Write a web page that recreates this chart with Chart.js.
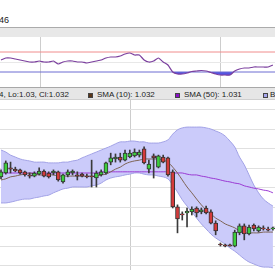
<!DOCTYPE html>
<html>
<head>
<meta charset="utf-8">
<script src="https://cdn.jsdelivr.net/npm/chart.js@4.4.0/dist/chart.umd.min.js"></script>
<style>
body { margin:0; width:275px; height:270px; overflow:hidden; background:#fff; position:relative;
       font-family: Arial, "Liberation Sans", sans-serif; font-size:8px; color:#222; }
.abs { position:absolute; }
#topval { left:-1px; top:16px; line-height:9px; font-size:9px; }
#bar1 { left:0; top:27px; width:275px; height:9px; background:#e8e8e8; border-top:1px solid #ababab; }
#rsiBox { left:0; top:37px; width:275px; height:50px; }
#bar2 { left:0; top:87px; width:275px; height:11px; background:#e6e6e6; border-top:1px solid #a8a8a8; border-bottom:1px solid #cfcfcf; }
#mainBox { left:0; top:100px; width:275px; height:170px; }
.sw { position:absolute; top:5px; width:3px; height:3px; border:1px solid #444; }
.lt { position:absolute; top:3px; line-height:8px; white-space:nowrap; }
</style>
</head>
<body>
<div id="topval" class="abs">46</div>
<div id="bar1" class="abs"></div>
<div id="rsiBox" class="abs"><canvas id="rsi" width="275" height="50"></canvas></div>
<div id="bar2" class="abs">
  <span class="lt" style="left:-1px">4, Lo:1.03, Cl:1.032</span>
  <span class="sw" style="left:88px;background:#5a3518"></span>
  <span class="lt" style="left:97px">SMA (10): 1.032</span>
  <span class="sw" style="left:175px;background:#8a10c8"></span>
  <span class="lt" style="left:184px">SMA (50): 1.031</span>
  <span class="sw" style="left:263px;background:#a8a8ec"></span>
  <span class="lt" style="left:270px">B</span>
</div>
<div id="mainBox" class="abs"><canvas id="main" width="275" height="170"></canvas></div>
<script>
// candles
var opens = [1.03328, 1.03338, 1.03351, 1.03348, 1.03346, 1.03341, 1.03333, 1.03330, 1.03335, 1.03343,
             1.03338, 1.03338, 1.03341, 1.03315, 1.03333, 1.03338, 1.03333, 1.03335, 1.03330, 1.03330,
             1.03325, 1.03333, 1.03338, 1.03366, 1.03374, 1.03379, 1.03371, 1.03379, 1.03382, 1.03384,
             1.03400, 1.03348, 1.03382, 1.03353, 1.03379, 1.03377, 1.03341, 1.03251, 1.03233, 1.03235,
             1.03238, 1.03248, 1.03238, 1.03248, 1.03238, 1.03209, 1.03155, 1.03153, 1.03153, 1.03150,
             1.03184, 1.03202, 1.03181, 1.03204, 1.03189, 1.03197, 1.03194, 1.03194];
var highs = [1.03346, 1.03369, 1.03366, 1.03353, 1.03348, 1.03343, 1.03338, 1.03341, 1.03351, 1.03346,
             1.03341, 1.03346, 1.03343, 1.03335, 1.03346, 1.03346, 1.03341, 1.03338, 1.03335, 1.03371,
             1.03343, 1.03346, 1.03366, 1.03389, 1.03387, 1.03389, 1.03397, 1.03397, 1.03400, 1.03397,
             1.03405, 1.03371, 1.03387, 1.03384, 1.03384, 1.03379, 1.03346, 1.03256, 1.03238, 1.03248,
             1.03251, 1.03251, 1.03248, 1.03253, 1.03243, 1.03215, 1.03158, 1.03155, 1.03155, 1.03191,
             1.03207, 1.03207, 1.03204, 1.03207, 1.03202, 1.03202, 1.03199, 1.03199];
var lows = [1.03323, 1.03335, 1.03338, 1.03341, 1.03335, 1.03330, 1.03325, 1.03328, 1.03333, 1.03328,
            1.03325, 1.03333, 1.03317, 1.03312, 1.03328, 1.03333, 1.03320, 1.03328, 1.03325, 1.03302,
            1.03302, 1.03330, 1.03335, 1.03359, 1.03366, 1.03366, 1.03369, 1.03377, 1.03379, 1.03379,
            1.03361, 1.03338, 1.03325, 1.03351, 1.03364, 1.03330, 1.03248, 1.03184, 1.03217, 1.03199,
            1.03230, 1.03225, 1.03233, 1.03233, 1.03207, 1.03179, 1.03150, 1.03148, 1.03150, 1.03148,
            1.03179, 1.03166, 1.03179, 1.03189, 1.03186, 1.03191, 1.03189, 1.03191];
var closes = [1.03341, 1.03364, 1.03348, 1.03343, 1.03338, 1.03333, 1.03330, 1.03338, 1.03343, 1.03330,
              1.03328, 1.03343, 1.03320, 1.03333, 1.03341, 1.03343, 1.03330, 1.03330, 1.03328, 1.03328,
              1.03338, 1.03341, 1.03364, 1.03377, 1.03379, 1.03371, 1.03389, 1.03389, 1.03392, 1.03392,
              1.03364, 1.03361, 1.03377, 1.03382, 1.03366, 1.03333, 1.03251, 1.03220, 1.03230, 1.03240,
              1.03245, 1.03235, 1.03243, 1.03235, 1.03209, 1.03189, 1.03153, 1.03150, 1.03150, 1.03186,
              1.03202, 1.03181, 1.03199, 1.03194, 1.03199, 1.03194, 1.03191, 1.03197];

// indicators
var sma10 = [1.03320, 1.03323, 1.03328, 1.03330, 1.03333, 1.03335, 1.03338, 1.03335, 1.03333, 1.03333,
             1.03333, 1.03333, 1.03330, 1.03330, 1.03330, 1.03330, 1.03330, 1.03330, 1.03330, 1.03330,
             1.03330, 1.03333, 1.03335, 1.03341, 1.03348, 1.03353, 1.03361, 1.03366, 1.03369, 1.03371,
             1.03374, 1.03374, 1.03374, 1.03374, 1.03371, 1.03366, 1.03353, 1.03338, 1.03320, 1.03302,
             1.03287, 1.03271, 1.03256, 1.03243, 1.03233, 1.03222, 1.03215, 1.03207, 1.03202, 1.03197,
             1.03189, 1.03184, 1.03184, 1.03184, 1.03184, 1.03186, 1.03186, 1.03186];
var sma50 = [1.03338, 1.03338, 1.03338, 1.03338, 1.03338, 1.03338, 1.03338, 1.03338, 1.03338, 1.03338,
             1.03338, 1.03338, 1.03338, 1.03338, 1.03338, 1.03338, 1.03338, 1.03338, 1.03338, 1.03338,
             1.03338, 1.03341, 1.03341, 1.03341, 1.03341, 1.03341, 1.03341, 1.03341, 1.03341, 1.03341,
             1.03341, 1.03341, 1.03341, 1.03341, 1.03341, 1.03341, 1.03338, 1.03338, 1.03338, 1.03335,
             1.03333, 1.03333, 1.03330, 1.03328, 1.03325, 1.03323, 1.03320, 1.03317, 1.03315, 1.03312,
             1.03310, 1.03305, 1.03302, 1.03299, 1.03297, 1.03294, 1.03292, 1.03287];
var bbUpper = [1.03397, 1.03392, 1.03384, 1.03379, 1.03374, 1.03371, 1.03369, 1.03366, 1.03366, 1.03366,
               1.03364, 1.03364, 1.03364, 1.03366, 1.03366, 1.03369, 1.03371, 1.03377, 1.03382, 1.03387,
               1.03392, 1.03397, 1.03402, 1.03407, 1.03413, 1.03418, 1.03418, 1.03420, 1.03420, 1.03418,
               1.03418, 1.03415, 1.03415, 1.03415, 1.03418, 1.03423, 1.03438, 1.03449, 1.03454, 1.03456,
               1.03456, 1.03456, 1.03456, 1.03454, 1.03451, 1.03446, 1.03441, 1.03433, 1.03420, 1.03405,
               1.03379, 1.03359, 1.03333, 1.03307, 1.03287, 1.03271, 1.03261, 1.03253];
var bbLower = [1.03261, 1.03261, 1.03263, 1.03266, 1.03269, 1.03271, 1.03271, 1.03274, 1.03276, 1.03279,
               1.03281, 1.03287, 1.03292, 1.03297, 1.03299, 1.03302, 1.03302, 1.03302, 1.03302, 1.03305,
               1.03307, 1.03312, 1.03320, 1.03325, 1.03328, 1.03330, 1.03333, 1.03335, 1.03338, 1.03338,
               1.03335, 1.03333, 1.03333, 1.03330, 1.03328, 1.03323, 1.03307, 1.03289, 1.03269, 1.03253,
               1.03238, 1.03222, 1.03207, 1.03194, 1.03181, 1.03171, 1.03163, 1.03155, 1.03145, 1.03137,
               1.03127, 1.03117, 1.03109, 1.03104, 1.03099, 1.03096, 1.03096, 1.03094];
var rsi14 = [54, 58, 58, 56, 54, 52, 50, 50, 52, 50,
             50, 52, 46, 50, 52, 52, 50, 50, 48, 50,
             52, 54, 58, 60, 60, 62, 66, 68, 64, 64,
             54, 50, 52, 58, 50, 44, 30, 26, 26, 28,
             31, 32, 33, 32, 29, 26, 24, 24, 24, 32,
             36, 38, 38, 40, 40, 40, 40, 44];
var rsiLevels = [70, 30];
var dayBreaks = [8.2, 46.1];

function xy(arr) {
    return arr.map(function(v, i) { return {x: i, y: v}; });
}
function flatLine(v) {
    return [{x: -2, y: v}, {x: 60, y: v}];
}

var xScale = {
    type: 'linear', min: -0.21, max: 57.44, offset: false,
    afterBuildTicks: function(s) { s.ticks = dayBreaks.map(function(v) { return {value: v}; }); },
    ticks: {display: false},
    grid: {color: '#cdcdcd', drawTicks: false},
    border: {display: false}
};
var common = {
    responsive: false, animation: false, devicePixelRatio: 1,
    layout: {padding: 0},
    plugins: {legend: {display: false}, tooltip: {enabled: false}, filler: {drawTime: 'beforeDatasetsDraw'}}
};

var idx = opens.map(function(_, i) { return i; });

new Chart(document.getElementById('main'), {
    type: 'bar',
    data: {
        datasets: [
            {type: 'line', data: xy(bbUpper), borderColor: '#a2a2e6', borderWidth: 1, pointRadius: 0,
             tension: 0.3, fill: false, order: 5},
            {type: 'line', data: xy(bbLower), borderColor: '#a2a2e6', borderWidth: 1, pointRadius: 0,
             tension: 0.3, fill: '-1', backgroundColor: '#cbcbfa', order: 4},
            {type: 'line', data: xy(sma50), borderColor: '#9b3bd4', borderWidth: 1, pointRadius: 0,
             tension: 0.3, fill: false, order: 3},
            {type: 'line', data: xy(sma10), borderColor: '#7e6455', borderWidth: 1, pointRadius: 0,
             tension: 0.3, fill: false, order: 2},
            {data: idx.map(function(i) { return {x: i, y: [lows[i], highs[i]]}; }),
             backgroundColor: '#3a3a3a', barThickness: 1, grouped: false, order: 1},
            {data: idx.map(function(i) { return {x: i, y: [opens[i], closes[i]]}; }),
             backgroundColor: idx.map(function(i) { return closes[i] > opens[i] ? '#3dce3d' : '#d43b3b'; }),
             borderColor: '#333', borderWidth: 1, borderSkipped: false,
             barThickness: 4, grouped: false, order: 0}
        ]
    },
    options: Object.assign({}, common, {
        scales: {
            x: xScale,
            y: {min: 1.030885, max: 1.035257,
                ticks: {display: false, stepSize: 0.0005, includeBounds: false},
                grid: {color: '#e0e0e0', drawTicks: false}, border: {display: false}}
        }
    })
});

new Chart(document.getElementById('rsi'), {
    type: 'line',
    data: {
        datasets: [
            {data: xy(rsi14), borderColor: '#7b3f9e', borderWidth: 1.2, pointRadius: 0, tension: 0.2,
             fill: {target: {value: rsiLevels[1]}, above: 'rgba(0,0,0,0)', below: '#5454e2'}, order: 0},
            {data: flatLine(rsiLevels[0]), borderColor: '#f08c8c', borderWidth: 1, pointRadius: 0, fill: false, order: 1},
            {data: flatLine(rsiLevels[1]), borderColor: '#6c6cd2', borderWidth: 1, pointRadius: 0, fill: false, order: 1}
        ]
    },
    options: Object.assign({}, common, {
        scales: {
            x: xScale,
            y: {min: 0, max: 100, ticks: {display: false, stepSize: 50},
                grid: {drawTicks: false, color: function(c) { return c.tick && c.tick.value === 50 ? '#e8e8e8' : 'rgba(0,0,0,0)'; }},
                border: {display: false}}
        }
    })
});
</script>
</body>
</html>
